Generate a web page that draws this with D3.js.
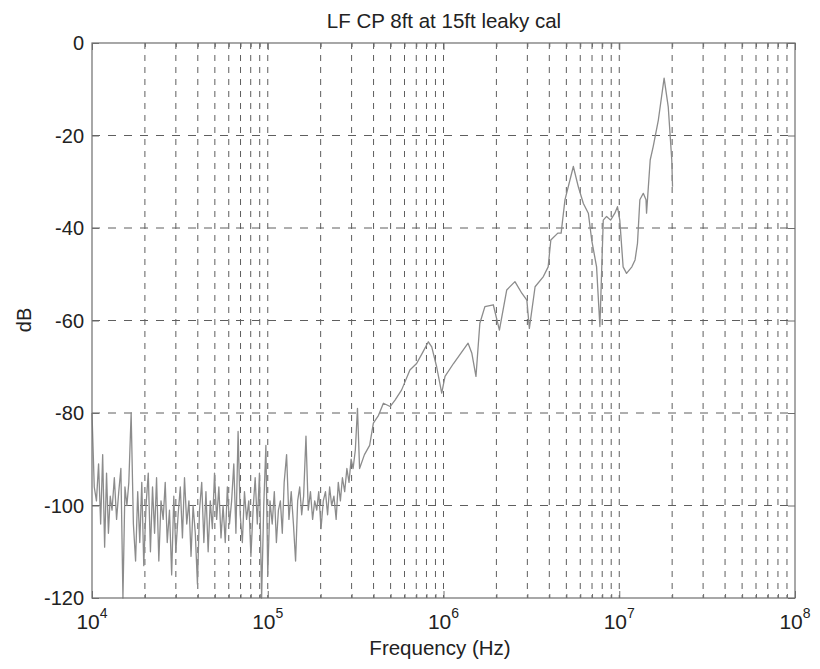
<!DOCTYPE html>
<html><head><meta charset="utf-8">
<script src="https://cdn.jsdelivr.net/npm/d3@7"></script>
<style>body{margin:0;background:#fff}svg{display:block}text{font-family:"Liberation Sans",Arial,sans-serif}</style>
</head><body>
<script>
// Noise floor region: frequencies in kHz and levels in dB
const noiseFreqKHz = [10.0,10.3,10.6,10.9,11.2,11.5,11.8,12.1,12.4,12.7,13.0,13.4,13.8,14.2,14.6,15.0,15.4,15.8,16.2,16.7,17.2,17.7,18.2,18.7,19.2,19.7,20.3,20.9,21.5,22.1,22.7,23.3,24.0,24.7,25.4,26.1,26.8,27.6,28.4,29.2,30.0,30.9,31.8,32.7,33.6,34.6,35.6,36.6,37.6,38.7,39.8,40.9,42.1,43.3,44.5,45.8,47.1,48.4,49.8,51.2,52.7,54.2,55.7,57.3,58.9,60.6,62.3,64.1,65.9,67.8,69.7,71.7,73.7,75.8,78.0,80.2,82.5,84.8,87.2,89.7,92.3,94.9,97.6,100,103,106,109,112,115,118,121,124,128,132,136,140,144,148,152,156,160,165,170,175,180,185,190,195,201,207,213,219,225,231,238,245,252,259,266,274,282,290,298,306,315,324,333];
const noiseDB = [-80,-96,-99,-91,-104,-89,-109,-93,-106,-98,-101,-94,-103,-97,-92,-120,-96,-100,-95,-80,-104,-112,-97,-108,-95,-113,-100,-93,-110,-96,-106,-94,-112,-99,-103,-95,-108,-101,-115,-98,-110,-102,-96,-107,-94,-104,-99,-111,-100,-106,-117,-101,-95,-108,-97,-110,-99,-105,-93,-103,-96,-107,-100,-108,-96,-104,-99,-91,-106,-84,-102,-108,-97,-103,-99,-111,-101,-94,-104,-93,-120,-100,-87,-115,-99,-104,-97,-108,-101,-99,-106,-95,-89,-103,-97,-104,-112,-99,-96,-102,-98,-85,-101,-97,-103,-99,-101,-97,-105,-99,-97,-102,-96,-100,-98,-103,-95,-99,-94,-97,-92,-95,-90,-92,-88,-79,-92];
// Rising region: frequencies in MHz and levels in dB
const riseFreqMHz = [0.355,0.380,0.399,0.427,0.455,0.497,0.530,0.578,0.644,0.703,0.759,0.820,0.857,0.914,0.977,1.02,1.14,1.26,1.38,1.45,1.53,1.61,1.72,1.92,2.08,2.29,2.55,2.79,2.98,3.08,3.32,3.70,3.94,4.08,4.47,4.67,4.91,5.48,5.85,6.25,6.67,6.97,7.43,7.76,8.11,8.47,8.93,9.44,9.77,10.07,10.52,11.0,11.8,12.3,12.7,13.1,13.7,14.2,14.3,15.0,15.6,16.7,18.0,19.0,19.9,20.1];
const riseDB = [-89,-87,-82.2,-80.5,-77.9,-78.6,-77.2,-75.0,-70.7,-69.3,-67.0,-64.6,-65.7,-70.0,-75.7,-72.1,-69.3,-67.0,-64.9,-67.1,-72.1,-60.6,-57.0,-56.6,-62.1,-53.4,-51.6,-54.1,-55.6,-61.7,-52.7,-50.5,-48.4,-42.6,-41.1,-41.1,-33.9,-26.7,-31.1,-34.7,-36.8,-42.6,-48.4,-61.3,-38.3,-37.5,-38.3,-36.8,-35.4,-38.3,-48.4,-49.8,-48.4,-46.9,-43.3,-33.9,-32.5,-33.9,-36.8,-25.3,-22.4,-16.6,-7.6,-13.8,-25.3,-31.1];

const xDomain = [1e4, 1e8];
const yDomain = [-120, 0];
const yTicks = [-120,-100,-80,-60,-40,-20,0];
const xMajorExps = [4,5,6,7,8];
const titleText = "LF CP 8ft at 15ft leaky cal";
const xLabelText = "Frequency (Hz)";
const yLabelText = "dB";

const W = 820, H = 669;
const m = {left: 92, right: 25, top: 43, bottom: 71};
const pw = W - m.left - m.right, ph = H - m.top - m.bottom;

const data = noiseFreqKHz.map((f,i)=>({f:f*1e3, v:noiseDB[i]}))
  .concat(riseFreqMHz.map((f,i)=>({f:f*1e6, v:riseDB[i]})));

const svg = d3.select("body").append("svg").attr("width", W).attr("height", H);
const x = d3.scaleLog().domain(xDomain).range([m.left, m.left + pw]);
const y = d3.scaleLinear().domain(yDomain).range([m.top + ph, m.top]);

const minorVals = [];
for (let e = 4; e < 8; e++) for (let k = 2; k <= 9; k++) minorVals.push(k * Math.pow(10, e));
const majorVals = xMajorExps.map(e => Math.pow(10, e));

const grid = svg.append("g");
grid.selectAll("line.vg").data(minorVals.concat(majorVals.slice(1,-1))).enter().append("line")
  .attr("x1", d=>x(d)).attr("x2", d=>x(d)).attr("y1", m.top).attr("y2", m.top+ph)
  .attr("stroke", "#5e5e5e").attr("stroke-width", 1).attr("stroke-dasharray", "6,6");
grid.selectAll("line.hg").data(yTicks.slice(1,-1)).enter().append("line")
  .attr("x1", m.left).attr("x2", m.left+pw).attr("y1", d=>y(d)).attr("y2", d=>y(d))
  .attr("stroke", "#5e5e5e").attr("stroke-width", 1).attr("stroke-dasharray", "8,8");

const line = d3.line().x(d=>x(d.f)).y(d=>y(d.v));
svg.append("path").datum(data).attr("d", line).attr("fill","none")
  .attr("stroke","#8c8c8c").attr("stroke-width",1.3).attr("stroke-linejoin","round");

const axColor = "#6e6e6e";
const gB = svg.append("g").attr("transform",`translate(0,${m.top+ph})`)
  .call(d3.axisTop(x).tickValues(majorVals).tickSize(7).tickFormat(""));
const gBm = svg.append("g").attr("transform",`translate(0,${m.top+ph})`)
  .call(d3.axisTop(x).tickValues(minorVals).tickSize(4).tickFormat(""));
const gT = svg.append("g").attr("transform",`translate(0,${m.top})`)
  .call(d3.axisBottom(x).tickValues(majorVals).tickSize(7).tickFormat(""));
const gTm = svg.append("g").attr("transform",`translate(0,${m.top})`)
  .call(d3.axisBottom(x).tickValues(minorVals).tickSize(4).tickFormat(""));
const gL = svg.append("g").attr("transform",`translate(${m.left},0)`)
  .call(d3.axisRight(y).tickValues(yTicks).tickSize(7).tickFormat(""));
const gR = svg.append("g").attr("transform",`translate(${m.left+pw},0)`)
  .call(d3.axisLeft(y).tickValues(yTicks).tickSize(7).tickFormat(""));
[gB,gBm,gT,gTm,gL,gR].forEach(g=>{
  g.selectAll("path,line").attr("stroke",axColor);
  g.select(".domain").remove();
});
svg.append("rect").attr("x",m.left).attr("y",m.top).attr("width",pw).attr("height",ph)
  .attr("fill","none").attr("stroke",axColor).attr("stroke-width",1.2);

svg.append("g").selectAll("text").data(yTicks).enter().append("text")
  .attr("x", m.left - 8).attr("y", d=>y(d)).attr("dy","0.36em")
  .attr("text-anchor","end").attr("font-size",20).attr("fill","#222").text(d=>d);

const xl = svg.append("g").selectAll("text").data(xMajorExps).enter().append("text")
  .attr("x", d=>x(Math.pow(10,d))).attr("y", 629)
  .attr("text-anchor","middle").attr("font-size",21).attr("fill","#222");
xl.append("tspan").text("10");
xl.append("tspan").attr("dy",-11).attr("font-size",14).text(d=>d);

svg.append("text").attr("x", 444).attr("y", 28).attr("text-anchor","middle")
  .attr("font-size",20.5).attr("fill","#222").text(titleText);
svg.append("text").attr("x", 440).attr("y", 655).attr("text-anchor","middle")
  .attr("font-size",20.5).attr("fill","#222").text(xLabelText);
svg.append("text").attr("transform",`translate(31,320) rotate(-90)`)
  .attr("text-anchor","middle").attr("font-size",20).attr("fill","#222").text(yLabelText);
</script>
</body></html>
